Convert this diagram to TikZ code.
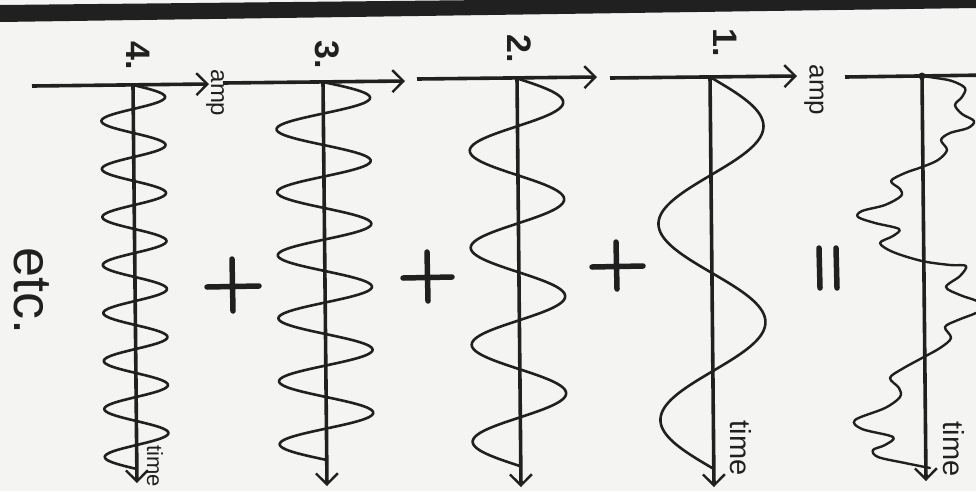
\documentclass[tikz,border=0pt]{standalone}
\usepackage{fontspec}
\setsansfont{Liberation Sans}
\usetikzlibrary{arrows.meta}
\definecolor{paper}{RGB}{244,244,242}
\definecolor{ink}{RGB}{32,32,32}
\begin{document}
\begin{tikzpicture}[x=1pt,y=-1pt,
  axisline/.style={draw=ink, line width=3.6pt},
  axisarrow/.style={axisline, -{Straight Barb[length=11pt,width=22pt,line width=2.4pt]}},
  wave/.style={draw=ink, line width=2.6pt, line join=round, line cap=round},
  lbl/.style={text=ink, font=\sffamily, rotate=-90, inner sep=0pt},
  sign/.style={draw=ink, line width=5.5pt, line cap=round}]
\useasboundingbox (0,0) rectangle (976,491);
\fill[paper] (0,0) rectangle (976,491);
\begin{scope}
\clip (0,0) rectangle (976,491);
% top bar
\fill[ink] (0,5) -- (976,-5) -- (976,8) -- (0,22) -- cycle;
% axes coordinates
\coordinate (o4) at (133,85); \coordinate (e4) at (137,483);
\coordinate (a4s) at (32,86);  \coordinate (a4e) at (209,84);
\coordinate (o3) at (323,82); \coordinate (e3) at (327,486);
\coordinate (a3s) at (223,83); \coordinate (a3e) at (405,81);
\coordinate (o2) at (517,78); \coordinate (e2) at (521,487);
\coordinate (a2s) at (417,79); \coordinate (a2e) at (597,77);
\coordinate (o1) at (710,77); \coordinate (e1) at (714,487);
\coordinate (a1s) at (610,78); \coordinate (a1e) at (797,76);
\coordinate (o0) at (922,76); \coordinate (e0) at (926,481);
\coordinate (a0s) at (845,77); \coordinate (a0e) at (990,75);
% amp axes
\draw[axisarrow] (a4s) -- (a4e);
\draw[axisarrow] (a3s) -- (a3e);
\draw[axisarrow] (a2s) -- (a2e);
\draw[axisarrow] (a1s) -- (a1e);
\draw[axisline] (a0s) -- (a0e);
% time axes
\draw[axisarrow] (o4) -- (e4);
\draw[axisarrow] (o3) -- (e3);
\draw[axisarrow] (o2) -- (e2);
\draw[axisarrow] (o1) -- (e1);
\draw[axisarrow] (o0) -- (e0);
\fill[ink] (o0) circle (3.5pt);
% waves
\draw[wave] plot[domain=0:384, samples=260, smooth] ({133+0.01*\x+32*sin(7.5*\x)}, {85+\x});
\draw[wave] plot[domain=0:378, samples=220, smooth] ({323+0.01*\x+47*sin(5.7143*\x)}, {82+\x});
\draw[wave] plot[domain=0:388, samples=200, smooth] ({516+0.01*\x+47*sin(3.7113*\x)}, {78+\x});
\draw[wave] plot[domain=0:392, samples=160, smooth] ({710+0.01*\x+53*sin(1.8367*\x)}, {77+\x});
% resulting wave
\draw[wave, line width=2.4pt] plot[smooth, tension=0.55] coordinates {
 (922,76) (936,78) (952,81) (965,88) (962,97) (955,105) (962,114) (974,121)
 (968,128) (950,133) (941,140) (947,150) (938,160) (922,167) (905,173)
 (891,181) (900,189) (901,196) (885,205) (862,211) (858,217) (875,223)
 (899,229) (893,236) (880,243) (893,252) (922,261) (950,265) (966,266)
 (960,276) (946,287) (960,295) (977,301) (984,307) (976,313) (958,320)
 (945,327) (951,338) (940,348) (922,358) (902,369) (890,378) (899,388)
 (900,397) (885,408) (855,420) (862,429) (893,437) (885,445) (873,450)
 (878,457) (905,463) (930,468)};
% signs
\draw[sign] (207,287) -- (259,286) (232,259) -- (233,311);
\draw[sign] (403,278) -- (452,277) (427,252) -- (428,301);
\draw[sign] (592,267) -- (643,266) (616,242) -- (617,289);
\draw[sign] (819,248) -- (820,288) (836,248) -- (837,288);
\end{scope}
% labels
\node[lbl, font=\sffamily\bfseries\fontsize{34}{34}\selectfont] (n4) at (138,56) {4.};
\node[lbl, font=\sffamily\bfseries\fontsize{34}{34}\selectfont] (n3) at (327,55) {3.};
\node[lbl, font=\sffamily\bfseries\fontsize{34}{34}\selectfont] (n2) at (519,49) {2.};
\node[lbl, font=\sffamily\bfseries\fontsize{34}{34}\selectfont] (n1) at (725,43) {1.};
\node[lbl, font=\sffamily\fontsize{24}{24}\selectfont] (amp4) at (215,93) {amp};
\node[lbl, font=\sffamily\fontsize{26}{26}\selectfont] (amp1) at (814,90) {amp};
\node[lbl, font=\sffamily\fontsize{22}{22}\selectfont] (time4) at (155,466) {time};
\node[lbl, font=\sffamily\fontsize{29}{29}\selectfont] (time1) at (741,448) {time};
\node[lbl, font=\sffamily\fontsize{29}{29}\selectfont] (time0) at (954,449) {time};
\node[lbl, font=\sffamily\fontsize{54}{54}\selectfont] (etc) at (32,291) {etc.};
\end{tikzpicture}
\end{document}
